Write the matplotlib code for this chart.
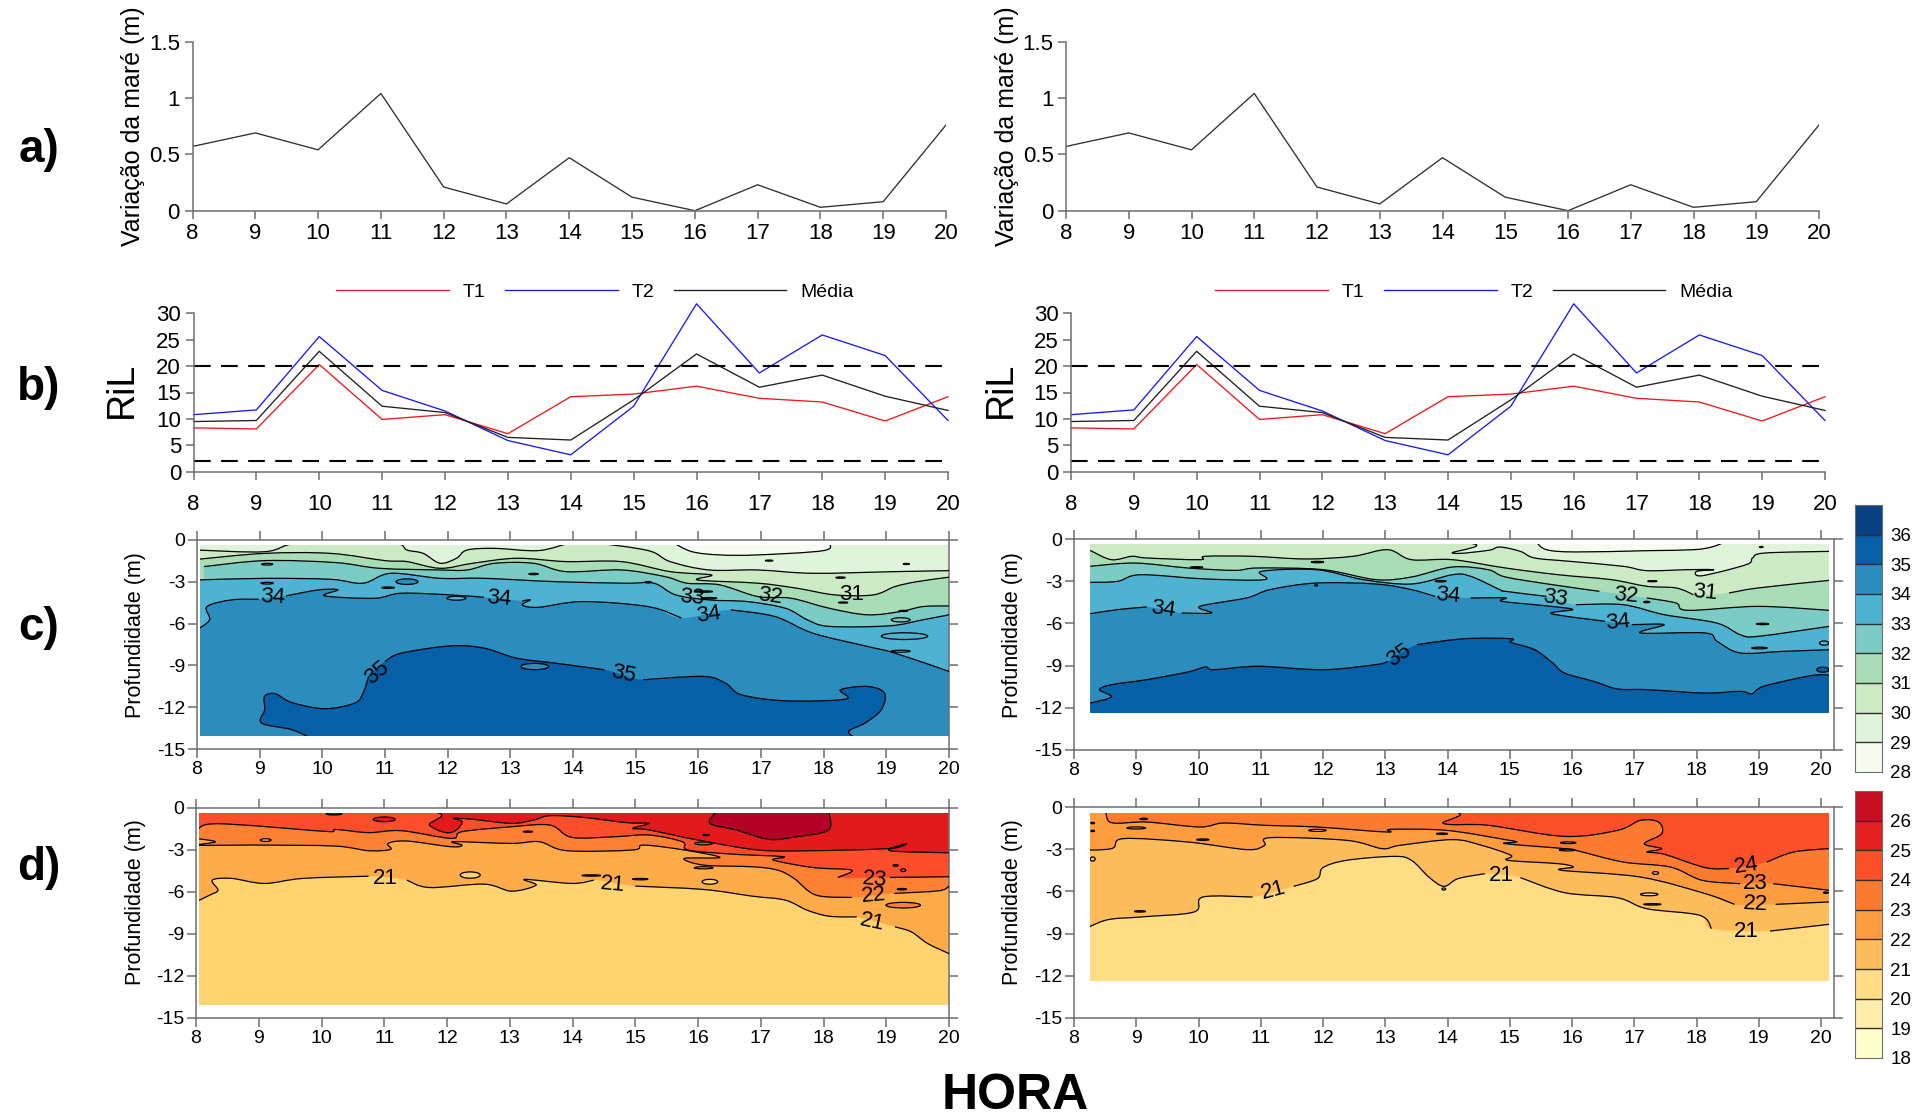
import matplotlib
matplotlib.use("Agg")
import matplotlib.pyplot as plt
import numpy as np
from matplotlib.patches import Ellipse, PathPatch, Rectangle
from matplotlib.path import Path

plt.rcParams['font.family'] = ['Liberation Sans', 'DejaVu Sans']

nan = float("nan")
W, H = 1921, 1116

hours = list(range(8, 21))
tide = [0.57, 0.69, 0.54, 1.04, 0.21, 0.06, 0.47, 0.12, 0.0, 0.23, 0.03, 0.08, 0.76]
ri_t1 = [8.3, 8.1, 20.3, 9.9, 10.8, 7.2, 14.2, 14.7, 16.2, 13.9, 13.2, 9.6, 14.2]
ri_t2 = [10.8, 11.7, 25.6, 15.4, 11.5, 5.9, 3.2, 12.4, 31.8, 18.7, 25.9, 22.0, 9.7]
ri_mean = [9.5, 9.7, 22.8, 12.4, 11.2, 6.5, 6.0, 13.6, 22.3, 16.0, 18.3, 14.3, 11.6]

sal_levels = [28, 29, 30, 31, 32, 33, 34, 35, 36]
sal_colors = ["#f7fcf0", "#e0f3db", "#ccebc5", "#a8ddb5", "#7bccc4", "#4eb3d3", "#2b8cbe", "#0560a8", "#084081"]
tmp_levels = [18, 19, 20, 21, 22, 23, 24, 25, 26]
tmp_colors = ["#ffffcc", "#feedab", "#fedd84", "#febc5a", "#fe9c40", "#fd7b30", "#fc5028", "#e42020", "#c80c22"]
tmp_left = {20: "#fed470", 21: "#feab4a", 22: "#fd8033", 23: "#fc4e2a", 24: "#e31a1c", 25: "#b30024"}
tmp_right = dict(zip(tmp_levels, tmp_colors))
sal_map = dict(zip(sal_levels, sal_colors))

# salinity, left section: isolines as hour / depth
cl_x29 = [15.6, 15.9, 16.34, 16.95, 18.0, 18.09]
cl_z29 = [0.2, 0.84, 1.07, 1.07, 0.76, 0.2]
cl_x30 = [8, 9.08, 9.65, 11.09, 11.35, 11.61, 11.88, 12.14, 12.31, 12.75, 13.45, 13.98, 14.33, 15.2, 15.55, 16.17, 16.95, 17.83, 19.14, 20]
cl_z30 = [0.72, 0.84, 0.2, 0.2, 0.72, 0.96, 1.67, 1.31, 0.72, 0.6, 0.76, 0.2, 0.2, 0.76, 1.55, 2.15, 2.15, 2.39, 2.27, 2.2]
cl_x31 = [8, 9.08, 10.13, 11.0, 11.35, 11.88, 12.4, 13.1, 13.89, 14.77, 15.55, 16.21, 15.99, 16.95, 17.57, 18.18, 18.79, 19.14, 19.49, 20]
cl_z31 = [1.39, 0.96, 0.96, 1.48, 1.55, 2.03, 1.67, 1.31, 1.55, 1.55, 2.27, 2.51, 2.87, 3.1, 3.46, 3.94, 3.94, 3.34, 2.99, 2.67]
cl_x32 = [8.11, 9.08, 10.21, 10.91, 11.88, 12.31, 12.75, 13.37, 13.89, 14.77, 15.47, 15.82, 16.34, 16.95, 17.48, 18.09, 18.7, 19.23, 19.58, 20]
cl_z32 = [1.91, 1.48, 1.62, 2.03, 2.15, 2.15, 1.67, 1.67, 2.27, 2.15, 2.63, 3.1, 3.22, 4.06, 4.18, 4.9, 5.37, 5.13, 4.78, 4.73]
cl_x33 = [8, 9.08, 10.13, 10.65, 11.09, 11.88, 12.58, 13.72, 14.85, 15.29, 15.64, 16.17, 16.78, 17.39, 17.74, 18.09, 19.05, 19.58, 20]
cl_z33 = [2.87, 2.75, 2.82, 3.1, 2.39, 2.75, 2.75, 2.99, 3.1, 3.1, 3.94, 4.3, 4.42, 4.9, 5.73, 6.2, 6.16, 5.73, 5.37]
cl_x34 = [8.0, 8.2, 8.16, 8.55, 8.98, nan, 9.42, 9.94, 10.25, 10.04, 10.83, 11.26, 12.05, 12.58, nan, 13.19, 13.32, 13.19, 13.45, 14.15, 15.2, 15.73, nan, 16.52, 17.22, 17.83, 18.7, 19.14, 20]
cl_z34 = [6.45, 5.73, 4.78, 4.3, 4.25, nan, 4.01, 3.58, 3.58, 4.01, 4.18, 3.82, 3.94, 4.11, nan, 4.37, 4.3, 4.66, 4.83, 4.42, 4.78, 5.6, nan, 5.02, 5.49, 6.69, 7.64, 8.12, 9.43]
cl_x35 = [9.85, 9.51, 9.03, 9.08, 9.08, 9.25, 9.51, 10.04, 10.52, 10.65, 10.74, nan, 11.0, 11.26, 12.05, 12.58, 13.1, 13.72, 14.5, nan, 15.12, 16.08, 16.43, 16.69, 17.39, 18.35, 18.27, 18.7, 18.97, 18.92, 18.66, 18.4, 18.53]
cl_z35 = [14.3, 13.61, 13.14, 12.18, 11.23, 11.03, 11.66, 12.11, 11.7, 10.99, 9.79, nan, 8.72, 8.12, 7.6, 7.76, 8.48, 8.84, 9.31, nan, 10.03, 9.79, 10.27, 11.11, 11.54, 11.42, 10.75, 10.51, 10.99, 12.18, 13.14, 13.73, 14.3]
cl_ed_x = [19.29, 19.23, 19.23, 13.39, 12.14, 11.35, 11.05, 9.12, 9.12, 13.37, 15.2, 18.27, 17.13, 19.32, 18.31, 19.27, 16.08, 16.17]
cl_ed_z = [6.9, 5.73, 7.98, 9.08, 4.18, 2.99, 3.42, 3.1, 1.74, 2.44, 3.03, 2.7, 1.48, 1.72, 4.49, 5.09, 3.7, 4.18]
cl_ed_w = [0.74, 0.3, 0.3, 0.44, 0.3, 0.35, 0.2, 0.2, 0.18, 0.15, 0.1, 0.15, 0.12, 0.1, 0.15, 0.14, 0.3, 0.25]
cl_ed_h = [0.48, 0.3, 0.14, 0.45, 0.28, 0.4, 0.1, 0.12, 0.12, 0.1, 0.1, 0.1, 0.08, 0.08, 0.08, 0.08, 0.1, 0.1]
cl_ed_c = [33, 32, 32, 34, 33, 34, 33, 32, 31, 31, 32, 29, 29, 29, 30, 32, 30, 32]
cl_lab_x = [9.21, 12.81, 15.9, 17.15, 18.44, 16.17, 10.87, 14.81]
cl_lab_z = [4.11, 4.18, 4.11, 4.01, 3.94, 5.37, 9.55, 9.63]
cl_lab_t = ["34", "34", "33", "32", "31", "34", "35", "35"]
cl_lab_r = [-3, -5, -5, -8, 0, 8, 40, -12]

# salinity, right section
cr_x29 = [15.42, 15.59, 16.06, 17.2, 17.95, 18.24, 18.47]
cr_z29 = [0.2, 0.76, 0.92, 0.83, 0.76, 0.57, 0.2]
cr_x30 = [8, 14.03, 14.08, 14.65, 14.84, 15.17, 15.4, 15.97, 16.82, 17.2, 17.86, 18.28, 18.0, 18.09, 18.8, 18.9, 19.09, 20.13]
cr_z30 = [0, 0.2, 1.0, 0.81, 0.57, 0.88, 1.35, 1.59, 1.94, 2.25, 2.18, 2.18, 2.3, 2.61, 1.82, 1.35, 1.0, 0.88]
cr_x31 = [8.26, 8.6, 8.93, 9.17, 10.02, 10.11, 10.87, 11.72, 12.48, 13.04, 13.42, 14.08, 14.93, 15.78, 16.63, 17.2, 17.67, 17.95, nan, 18.52, 18.99, 20.13]
cr_z31 = [0.81, 1.47, 1.23, 1.35, 1.47, 1.23, 1.23, 1.42, 1.23, 0.76, 1.47, 1.47, 2.06, 2.54, 2.89, 3.36, 3.48, 3.96, nan, 3.84, 3.48, 2.94]
cr_x32 = [8.26, 8.98, 9.83, 10.58, 10.96, 12.0, 12.85, 13.42, 14.08, 14.65, 14.93, 15.69, 16.44, nan, 17.2, 17.67, 17.86, 18.99, 20.13]
cr_z32 = [1.94, 1.71, 2.06, 2.23, 2.06, 2.18, 2.89, 2.7, 1.99, 2.18, 2.7, 3.25, 3.72, nan, 4.19, 4.55, 5.07, 4.79, 5.07]
cr_x33 = [8.26, 8.7, 9.07, 10.11, 11.06, 11.01, 11.89, 12.65, 13.42, 14.08, 14.37, 14.84, 14.93, 15.59, nan, 16.06, 16.82, 17.48, 18.32, 18.7, 18.99, 20.13]
cr_z33 = [3.08, 3.01, 2.54, 2.84, 2.89, 2.3, 2.18, 2.89, 3.2, 2.54, 2.65, 3.6, 3.72, 4.08, nan, 4.67, 4.67, 5.38, 5.97, 6.8, 6.92, 6.21]
cr_x34 = [8.26, 8.7, 9.17, nan, 9.73, 10.21, 10.02, 10.77, 11.15, 11.89, 12.85, 13.42, 13.8, nan, 14.37, 14.93, 14.88, 15.67, 16.01, 15.67, 16.53, nan, 16.96, 17.48, 17.1, 18.14, 18.33, 18.7, 19.37, 20.13]
cr_z34 = [5.31, 5.02, 4.83, nan, 5.26, 5.26, 4.79, 4.19, 3.6, 3.13, 3.2, 3.6, 4.08, nan, 4.19, 4.19, 4.43, 4.79, 5.02, 5.31, 5.85, nan, 6.09, 6.09, 6.68, 6.68, 7.27, 8.1, 7.99, 7.87]
cr_x35 = [8.26, 8.6, 8.41, 8.6, 9.17, 9.83, 10.11, 10.25, 10.96, 12.0, 12.85, 13.04, nan, 13.51, 14.27, 15.02, 15.02, 15.4, 15.69, 15.88, 16.35, 16.73, 17.2, 18.14, 18.7, 18.89, 19.08, 19.83, 20.13]
cr_z35 = [11.66, 11.23, 10.71, 10.36, 10.0, 9.45, 9.1, 9.29, 9.05, 9.29, 8.93, 8.7, nan, 7.51, 7.09, 7.09, 7.35, 7.87, 8.82, 9.53, 10.12, 10.66, 10.71, 10.95, 10.83, 11.0, 10.47, 9.72, 9.67]
cr_ed_x = [9.97, 11.91, 17.29, 13.89, 19.06, 19.01, 20.05, 20.03, 17.2, 19.04, 11.89]
cr_ed_z = [2.01, 1.64, 3.0, 3.0, 6.04, 7.75, 7.4, 9.29, 4.48, 0.57, 3.3]
cr_ed_w = [0.2, 0.2, 0.15, 0.18, 0.2, 0.25, 0.15, 0.2, 0.1, 0.06, 0.05]
cr_ed_h = [0.08, 0.1, 0.08, 0.1, 0.1, 0.12, 0.3, 0.35, 0.1, 0.08, 0.08]
cr_ed_c = [31, 30, 29, 32, 32, 33, 33, 35, 32, 29, 33]
cr_lab_x = [9.43, 14.0, 15.73, 16.73, 16.87, 18.14, 13.23]
cr_lab_z = [5.02, 4.03, 4.19, 5.92, 4.03, 3.84, 8.27]
cr_lab_t = ["34", "34", "33", "34", "32", "31", "35"]
cr_lab_r = [-8, -5, -8, 5, -5, -5, 35]

# temperature, left section
dl_x25 = [16.3, 16.19, 16.61, 17.13, 17.57, 18.08, 18.08]
dl_z25 = [0.2, 1.1, 1.57, 2.24, 2.05, 1.57, 0.2]
dl_x24 = [8, 11.63, 11.72, 11.98, 12.15, 12.24, 12.11, 12.42, 13.03, 13.38, 13.64, 14.17, 14.87, 15.22, 14.96, 15.22, 16.0, 16.96, 17.83, 19.06, 19.32, 19.06, 20]
dl_z24 = [0, 0.2, 1.22, 1.76, 1.57, 0.98, 0.74, 0.81, 1.1, 0.86, 0.55, 0.67, 1.05, 1.1, 1.45, 1.57, 2.29, 3.0, 3.05, 2.89, 2.53, 3.05, 3.2]
dl_x23 = [8, 8.13, 8.48, 9.44, 10.14, 10.23, 10.75, 11.27, 12.07, 12.24, 13.03, 13.64, 13.99, 14.69, 15.22, 15.75, 15.84, 16.53, 17.36, 17.2, 17.83, 18.45, 18.23, nan, 19.06, 20]
dl_z23 = [1.69, 1.22, 1.14, 1.45, 1.69, 1.53, 1.76, 1.62, 2.17, 1.69, 1.34, 1.22, 2.1, 2.05, 1.93, 2.41, 3.0, 3.29, 3.48, 3.72, 4.25, 4.44, 4.96, nan, 4.96, 4.91]
dl_x22 = [8, 8.31, 8.04, 8.74, 9.09, 10.22, 10.75, 11.1, 11.06, 11.36, 12.07, 12.24, 12.11, 13.03, 13.47, 13.91, 14.96, 15.13, 15.78, 16.35, 15.78, 16.09, 16.87, 17.27, 17.53, 17.88, 18.45, nan, 19.13, 19.84, 20]
dl_z22 = [2.17, 2.41, 2.65, 2.65, 2.65, 2.72, 3.05, 2.96, 2.53, 2.36, 2.77, 2.65, 2.41, 2.53, 2.41, 3.05, 3.0, 2.65, 3.0, 3.53, 3.6, 4.08, 4.2, 4.44, 5.03, 6.22, 6.39, nan, 6.1, 5.91, 5.58]
dl_x21 = [8, 8.22, 8.35, 8.26, 8.57, 9.09, 9.7, 10.75, nan, 11.36, 11.72, 12.59, 13.03, 13.42, 13.24, 13.99, 14.34, nan, 15.0, 16.09, 16.87, 17.39, 17.74, 18.09, 18.53, nan, 19.14, 19.4, 19.66, 20]
dl_z21 = [6.7, 6.22, 5.87, 5.15, 5.03, 5.39, 5.03, 4.87, nan, 5.15, 5.68, 5.44, 5.94, 5.51, 5.1, 5.39, 5.15, nan, 5.58, 5.82, 6.3, 6.58, 7.3, 7.73, 7.78, nan, 8.49, 8.85, 9.68, 10.4]
dl_ed_x = [11.0, 9.11, 13.29, 16.13, 16.09, 16.09, 12.37, 16.19, 15.08, 14.3, 19.27, 19.27, 19.15, 19.25, 10.2]
dl_ed_z = [0.81, 2.29, 1.69, 1.93, 2.53, 4.27, 4.79, 5.27, 5.08, 4.82, 6.94, 4.44, 4.1, 5.8, 0.42]
dl_ed_w = [0.35, 0.17, 0.15, 0.1, 0.28, 0.3, 0.32, 0.25, 0.25, 0.3, 0.55, 0.08, 0.08, 0.15, 0.25]
dl_ed_h = [0.33, 0.2, 0.08, 0.08, 0.2, 0.15, 0.45, 0.35, 0.1, 0.1, 0.4, 0.2, 0.12, 0.1, 0.15]
dl_ed_c = [24, 21, 22, 23, 23, 21, 20, 20, 21, 21, 22, 23, 23, 22, 24]
dl_lab_x = [11.02, 14.64, 18.81, 18.8, 18.78]
dl_lab_z = [5.03, 5.44, 5.1, 6.27, 8.13]
dl_lab_t = ["21", "21", "23", "22", "21"]
dl_lab_r = [0, -5, -5, 5, -12]

# temperature, right section
dr_x24 = [8, 13.75, 13.94, 14.65, 15.88, 16.73, 17.1, 17.39, 17.44, 17.16, 17.44, 17.2, 17.48, 18.14, 18.52, nan, 19.13, 19.56, 20.13]
dr_z24 = [0, 0.2, 1.18, 1.3, 2.09, 1.66, 0.95, 1.07, 1.9, 2.61, 2.96, 3.2, 3.36, 4.31, 4.38, nan, 3.91, 3.2, 2.96]
dr_x23 = [8, 8.46, 8.6, 9.17, 10.02, 10.4, 11.06, 11.89, 13.03, 13.08, 13.98, 14.93, 15.11, 14.93, 15.88, 16.06, 16.82, 17.58, 18.09, 18.7, nan, 19.23, 20.13]
dr_z23 = [0, 0.2, 1.11, 1.07, 1.42, 1.14, 1.3, 1.42, 1.78, 1.59, 1.66, 2.32, 2.49, 2.61, 2.96, 3.08, 3.91, 4.27, 5.21, 5.45, nan, 5.45, 5.92]
dr_x22 = [8, 8.6, 8.79, 9.83, 10.78, 11.06, 11.15, 12.38, 12.95, 13.23, 14.08, 14.55, 15.02, 14.97, 15.78, 16.02, 15.83, 17.1, 18.14, 18.61, nan, 19.27, 20.13]
dr_z22 = [3.08, 2.96, 2.25, 2.49, 3.03, 2.73, 2.18, 2.37, 2.96, 2.73, 2.32, 2.73, 3.44, 3.79, 4.03, 4.27, 4.5, 4.98, 6.16, 6.92, nan, 6.92, 6.75]
dr_x21 = [8, 8.5, 9.07, 9.93, 10.07, 10.87, nan, 11.53, 11.91, 12.0, 12.38, 13.14, 13.42, 13.7, 13.94, 14.17, 14.6, nan, 15.17, 15.88, 16.73, 17.2, 18.05, 18.24, nan, 19.18, 20.13]
dr_z21 = [9.1, 8.06, 7.82, 7.46, 6.4, 6.4, nan, 5.64, 5.09, 4.31, 3.79, 3.51, 3.79, 4.98, 5.64, 5.09, 4.74, nan, 5.02, 6.09, 6.45, 7.23, 7.7, 8.65, nan, 8.82, 8.34]
dr_ed_x = [9.0, 9.12, 8.3, 8.3, 10.07, 11.91, 13.91, 15.94, 15.92, 17.24, 17.29, 17.34, 9.06, 13.94, 20.08, 8.3]
dr_ed_z = [1.49, 0.85, 1.14, 1.7, 2.32, 1.66, 1.9, 2.54, 3.06, 6.21, 6.92, 4.69, 7.42, 5.83, 6.09, 3.7]
dr_ed_w = [0.3, 0.12, 0.06, 0.06, 0.2, 0.28, 0.18, 0.25, 0.25, 0.28, 0.28, 0.1, 0.18, 0.06, 0.08, 0.08]
dr_ed_h = [0.15, 0.1, 0.1, 0.1, 0.1, 0.15, 0.1, 0.12, 0.12, 0.2, 0.1, 0.2, 0.1, 0.15, 0.1, 0.3]
dr_ed_c = [22, 22, 22, 22, 21, 21, 23, 21, 21, 20, 20, 21, 21, 21, 22, 21]
dr_lab_x = [11.2, 14.86, 18.8, 18.95, 18.95, 18.8]
dr_lab_z = [5.92, 4.86, 4.19, 5.45, 6.94, 8.82]
dr_lab_t = ["21", "21", "24", "23", "22", "21"]
dr_lab_r = [15, 0, 8, 0, -3, 0]

GREY = "#6e6e6e"


def px_axes(x0, x1, y0, y1):
    return fig.add_axes([x0 / W, 1 - y1 / H, (x1 - x0) / W, (y1 - y0) / H])


def curve(pts):
    # round the corners of an isoline with bezier segments through its points
    n = len(pts)
    verts, codes = [tuple(pts[0])], [Path.MOVETO]
    for i in range(n - 1):
        p0, p1, p2, p3 = pts[max(i - 1, 0)], pts[i], pts[i + 1], pts[min(i + 2, n - 1)]
        verts += [tuple(p1 + (p2 - p0) / 6), tuple(p2 - (p3 - p1) / 6), tuple(p2)]
        codes += [Path.CURVE4] * 3
    return verts, codes


def fill_below(ax, xs, zs, color, box, closed=False):
    xs, zs = np.array(xs), np.array(zs)
    keep = ~np.isnan(xs)
    pts = np.column_stack([xs[keep], -zs[keep]])
    verts, codes = curve(pts)
    if not closed:
        verts += [(pts[-1][0], -15.5), (pts[0][0], -15.5)]
        codes += [Path.LINETO, Path.LINETO]
    verts.append(tuple(pts[0]))
    codes.append(Path.CLOSEPOLY)
    poly = PathPatch(Path(verts, codes), facecolor=color, lw=0, zorder=2)
    ax.add_patch(poly)
    poly.set_clip_path(box)


def draw_line(ax, xs, zs, box):
    xs, zs = np.array(xs), np.array(zs)
    breaks = np.where(np.isnan(xs))[0]
    for run in np.split(np.arange(len(xs)), breaks):
        run = run[~np.isnan(xs[run])]
        if len(run) < 2:
            continue
        verts, codes = curve(np.column_stack([xs[run], -zs[run]]))
        ln = PathPatch(Path(verts, codes), fill=False, edgecolor="black", lw=0.9, zorder=3)
        ax.add_patch(ln)
        ln.set_clip_path(box)


def section(ax, box_lim, base, bands, closed_bands, eddies, labels, cmap):
    x0, x1, z0, z1 = box_lim
    box = Rectangle((x0, -z1), x1 - x0, z1 - z0, transform=ax.transData)
    ax.add_patch(Rectangle((x0, -z1), x1 - x0, z1 - z0, color=base, lw=0, zorder=1))
    for xs, zs, color in bands:
        fill_below(ax, xs, zs, color, box)
    for xs, zs, color in closed_bands:
        fill_below(ax, xs, zs, color, box, closed=True)
    for xs, zs, color in bands + closed_bands:
        draw_line(ax, xs, zs, box)
    ex, ez, ew, eh, ec = eddies
    for a, b, c, d, e in zip(ex, ez, ew, eh, ec):
        el = Ellipse((a, -b), c, d, facecolor=cmap[e], edgecolor="black", lw=0.9, zorder=4)
        ax.add_patch(el)
        el.set_clip_path(box)
    lx, lz, lt, lr = labels
    for a, b, c, d in zip(lx, lz, lt, lr):
        ax.text(a, -b, c, fontsize=16, rotation=d, ha="center", va="center", zorder=5)
    ax.set_xlim(8, x1 if x1 > 20 else 20)
    ax.set_ylim(-15, 0)
    ax.set_xticks(hours)
    ax.set_yticks([0, -3, -6, -9, -12, -15])
    ax.set_yticklabels(["0", "-3", "-6", "-9", "-12", "-15"])
    ax.tick_params(top=True, right=True, direction="out", length=6.5, width=1.1,
                   color=GREY, labelsize=14, pad=2)
    for s in ax.spines.values():
        s.set_color(GREY)
        s.set_linewidth(1.1)


def line_axes(ax):
    ax.set_xlim(8, 20)
    ax.set_xticks(hours)
    ax.tick_params(direction="out", length=6, width=1.1, color=GREY, labelsize=16, pad=3)
    ax.spines["top"].set_visible(False)
    ax.spines["right"].set_visible(False)
    ax.spines["left"].set_color(GREY)
    ax.spines["bottom"].set_color(GREY)
    ax.spines["left"].set_linewidth(1.1)
    ax.spines["bottom"].set_linewidth(1.1)


def colorbar(x0, x1, y0, y1, levels, colors):
    ax = px_axes(x0, x1, y0, y1)
    edges = levels + [levels[-1] + 1]
    for i, c in enumerate(colors):
        ax.fill_between([0, 1], edges[i], edges[i + 1], color=c, lw=0)
        if i > 0:
            ax.plot([0, 1], [edges[i], edges[i]], color="#303030", lw=1.0)
    ax.set_xlim(0, 1)
    ax.set_ylim(edges[0], edges[-1])
    ax.set_xticks([])
    ax.set_yticks(levels)
    ax.yaxis.tick_right()
    ax.tick_params(length=0, labelsize=13.5, pad=6)
    for s in ax.spines.values():
        s.set_color(GREY)


fig = plt.figure(figsize=(W / 100, H / 100), dpi=100)

# tide and Richardson panels, left and right
for a_x, b_x, lab_x, ri_x, leg_x in [((192.5, 946), (193.5, 948), 133, 122, 595),
                                     ((1066, 1819), (1071, 1825), 1007, 1001, 1474)]:
    ax = px_axes(a_x[0], a_x[1], 41.6, 210.7)
    ax.plot(hours, tide, color="#303030", lw=0.95)
    line_axes(ax)
    ax.set_ylim(0, 1.5)
    ax.set_yticks([0, 0.5, 1, 1.5])
    ax.set_yticklabels(["0", "0.5", "1", "1.5"])
    fig.text(lab_x / W, 1 - 126 / H, "Variação da maré (m)", rotation=90, fontsize=18,
             ha="center", va="center")

    ax = px_axes(b_x[0], b_x[1], 313.3, 471.7)
    h1, = ax.plot(hours, ri_t1, color="#f01818", lw=0.95, clip_on=False, label="T1")
    h2, = ax.plot(hours, ri_t2, color="#1a1af0", lw=0.95, clip_on=False, label="T2")
    h3, = ax.plot(hours, ri_mean, color="#202020", lw=0.95, clip_on=False, label="Média")
    ax.plot([8, 20], [20, 20], color="black", lw=1.5, ls=(0, (8, 5)))
    ax.plot([8, 20], [2, 2], color="black", lw=1.5, ls=(0, (8, 5)))
    line_axes(ax)
    ax.tick_params(axis="x", pad=10)
    ax.set_ylim(0, 30)
    ax.set_yticks(range(0, 31, 5))
    fig.text(ri_x / W, 1 - 390 / H, "RiL", rotation=90, fontsize=27, ha="center", va="center")
    fig.legend(handles=[h1, h2, h3], loc="center", bbox_to_anchor=(leg_x / W, 1 - 292 / H),
               ncol=3, frameon=False, fontsize=14, handlelength=5.8, handletextpad=0.7,
               columnspacing=1.0)

# salinity sections
ax = px_axes(197, 949, 540, 749)
section(ax, (8.04, 20, 0.36, 14.1), sal_colors[1],
        [(cl_x30, cl_z30, sal_colors[2]), (cl_x31, cl_z31, sal_colors[3]),
         (cl_x32, cl_z32, sal_colors[4]), (cl_x33, cl_z33, sal_colors[5]),
         (cl_x34, cl_z34, sal_colors[6])],
        [(cl_x29, cl_z29, sal_colors[0]), (cl_x35, cl_z35, sal_colors[7])],
        (cl_ed_x, cl_ed_z, cl_ed_w, cl_ed_h, cl_ed_c),
        (cl_lab_x, cl_lab_z, cl_lab_t, cl_lab_r), sal_map)

ax = px_axes(1074, 1833.5, 539, 750)
section(ax, (8.26, 20.13, 0.33, 12.4), sal_colors[1],
        [(cr_x30, cr_z30, sal_colors[2]), (cr_x31, cr_z31, sal_colors[3]),
         (cr_x32, cr_z32, sal_colors[4]), (cr_x33, cr_z33, sal_colors[5]),
         (cr_x34, cr_z34, sal_colors[6]), (cr_x35, cr_z35, sal_colors[7])],
        [(cr_x29, cr_z29, sal_colors[0])],
        (cr_ed_x, cr_ed_z, cr_ed_w, cr_ed_h, cr_ed_c),
        (cr_lab_x, cr_lab_z, cr_lab_t, cr_lab_r), sal_map)
ax.set_xlim(8, 20.2)

# temperature sections
ax = px_axes(196, 949, 808, 1018)
section(ax, (8.04, 20, 0.38, 14.05), tmp_left[24],
        [(dl_x24, dl_z24, tmp_left[23]), (dl_x23, dl_z23, tmp_left[22]),
         (dl_x22, dl_z22, tmp_left[21]), (dl_x21, dl_z21, tmp_left[20])],
        [(dl_x25, dl_z25, tmp_left[25])],
        (dl_ed_x, dl_ed_z, dl_ed_w, dl_ed_h, dl_ed_c),
        (dl_lab_x, dl_lab_z, dl_lab_t, dl_lab_r), tmp_left)

ax = px_axes(1074, 1833.5, 807, 1018)
section(ax, (8.26, 20.13, 0.4, 12.37), tmp_right[24],
        [(dr_x24, dr_z24, tmp_right[23]), (dr_x23, dr_z23, tmp_right[22]),
         (dr_x22, dr_z22, tmp_right[21]), (dr_x21, dr_z21, tmp_right[20])],
        [],
        (dr_ed_x, dr_ed_z, dr_ed_w, dr_ed_h, dr_ed_c),
        (dr_lab_x, dr_lab_z, dr_lab_t, dr_lab_r), tmp_right)
ax.set_xlim(8, 20.2)

colorbar(1855, 1882, 505, 772, sal_levels, sal_colors)
colorbar(1855, 1882, 791, 1058, tmp_levels, tmp_colors)

for lab_x, y_mid in [(135, 635), (1012, 635), (135, 902), (1012, 902)]:
    fig.text(lab_x / W, 1 - y_mid / H, "Profundidade (m)", rotation=90, fontsize=15.5,
             ha="center", va="center")

for txt, y_mid in [("a)", 150), ("b)", 388), ("c)", 628), ("d)", 868)]:
    fig.text(39 / W, 1 - y_mid / H, txt, fontsize=33, fontweight="bold", ha="center", va="center")
fig.text(1015 / W, 1 - 1096 / H, "HORA", fontsize=36, fontweight="bold", ha="center", va="center")

fig.savefig("out.png", dpi=100)
